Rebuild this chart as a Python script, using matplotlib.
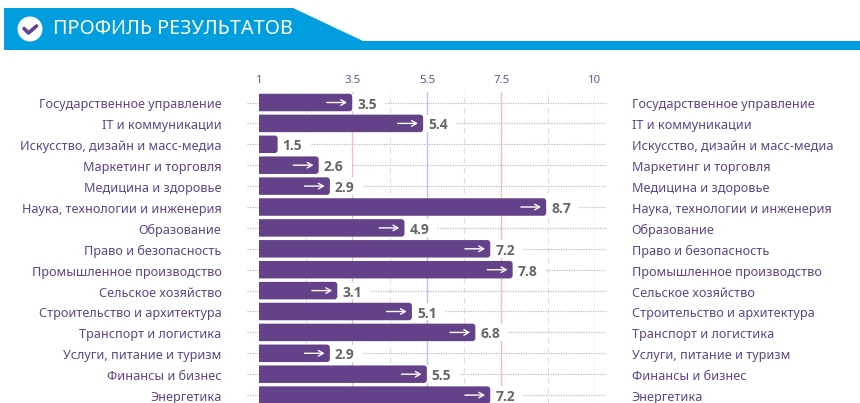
import matplotlib
matplotlib.use("Agg")
import matplotlib.pyplot as plt
from matplotlib.patches import FancyBboxPatch, Polygon, Circle

# Data
categories = [
    "Государственное управление", "IT и коммуникации",
    "Искусство, дизайн и масс-медиа", "Маркетинг и торговля",
    "Медицина и здоровье", "Наука, технологии и инженерия",
    "Образование", "Право и безопасность", "Промышленное производство",
    "Сельское хозяйство", "Строительство и архитектура",
    "Транспорт и логистика", "Услуги, питание и туризм",
    "Финансы и бизнес", "Энергетика",
]
values = [3.5, 5.4, 1.5, 2.6, 2.9, 8.7, 4.9, 7.2, 7.8, 3.1, 5.1, 6.8, 2.9, 5.5, 7.2]
tick_values = [1, 3.5, 5.5, 7.5, 10]
tick_labels = ["1", "3.5", "5.5", "7.5", "10"]
minor_grid = [2.25, 4.5, 6.5, 8.75]
title = "ПРОФИЛЬ РЕЗУЛЬТАТОВ"

# Colours
purple = "#63428a"
label_purple = "#5f4488"
blue = "#009ddf"
W, H = 860, 403
plt.rcParams["font.family"] = ["Noto Sans", "DejaVu Sans"]

fig = plt.figure(figsize=(W / 100, H / 100), dpi=100, facecolor="white")

# Header drawn in a pixel-sized overlay
bg = fig.add_axes([0, 0, 1, 1])
bg.set_xlim(0, W)
bg.set_ylim(H, 0)
bg.axis("off")
bg.add_patch(Polygon([(4, 8), (293, 8), (363, 41), (860, 41), (860, 50), (4, 50)],
                     closed=True, fc=blue, ec="none"))
bg.add_patch(Circle((30, 29), 12.5, fc="white", ec="none"))
bg.plot([24, 28.5, 36.5], [28.5, 33, 26], color=purple, lw=2.6, solid_capstyle="round")
bg.text(53, 29, title, color="white", fontsize=14.35, va="center", ha="left")

# Chart
top = 92
row_h = 20.9
first = 102.5
ax = fig.add_axes([259 / W, 0, (594.7 - 259) / W, (H - top) / H])
ax.set_xlim(1, 10)
ax.set_ylim((H - first) / row_h, (top - first) / row_h)
ax.axis("off")
ax.patch.set_alpha(0)

x_px = (594.7 - 259) / 9
aspect = x_px / row_h
bar_h = 17.5 / row_h
gap = 33 / x_px

for xv in minor_grid:
    ax.axvline(xv, color="#dedede", lw=0.8, ls=(0, (5, 4)), zorder=1)
ref_colors = ["#f7bcc0", "#c3c1ea", "#f7bcc0", "#d4d4d4"]
for xv, c in zip(tick_values[1:], ref_colors):
    ax.axvline(xv, color=c, lw=1.0, zorder=1)

for i, (name, v) in enumerate(zip(categories, values)):
    # white band behind the value label
    ax.barh(i, gap, left=v, height=bar_h, color="white", zorder=2)
    ax.plot([0.68, 1], [i, i], color="#bdbdbd", lw=0.9, ls=(0, (1, 1)), clip_on=False, zorder=3)
    ax.plot([v + gap, 10.3], [i, i], color="#bdbdbd", lw=0.9, ls=(0, (1, 1)), clip_on=False, zorder=3)
    ax.add_patch(FancyBboxPatch((0.7, i - bar_h / 2), v - 0.7, bar_h,
                                boxstyle="round,pad=0,rounding_size=0.08",
                                mutation_aspect=aspect, fc=purple, ec="none", zorder=4))
    if v > 2:
        ax.annotate("", xy=(v - 0.14, i), xytext=(v - 0.68, i), zorder=5,
                    arrowprops=dict(arrowstyle="->,head_length=0.35,head_width=0.2",
                                    color="white", lw=1.0, shrinkA=0, shrinkB=0))
    ax.annotate(f"{v}", xy=(v, i), xytext=(3.6, -0.4), textcoords="offset points",
                color="#666666", fontsize=10, fontweight="bold", family=["Open Sans", "DejaVu Sans"],
                va="center_baseline", ha="left", zorder=5, annotation_clip=False)
    ax.annotate(name, xy=(1, i), xytext=(-27, -0.7), textcoords="offset points",
                color=label_purple, fontsize=9.1, va="center_baseline", ha="right",
                annotation_clip=False)
    ax.annotate(name, xy=(10, i), xytext=(26.6, -0.7), textcoords="offset points",
                color=label_purple, fontsize=9.1, va="center_baseline", ha="left",
                annotation_clip=False)

for xv, lab in zip(tick_values, tick_labels):
    ax.annotate(lab, xy=(xv, -0.5), xytext=(0, 9.5), textcoords="offset points",
                color="#6a4f96", fontsize=8.2, ha="center", va="center_baseline",
                annotation_clip=False)

fig.savefig("out.png", dpi=100)
